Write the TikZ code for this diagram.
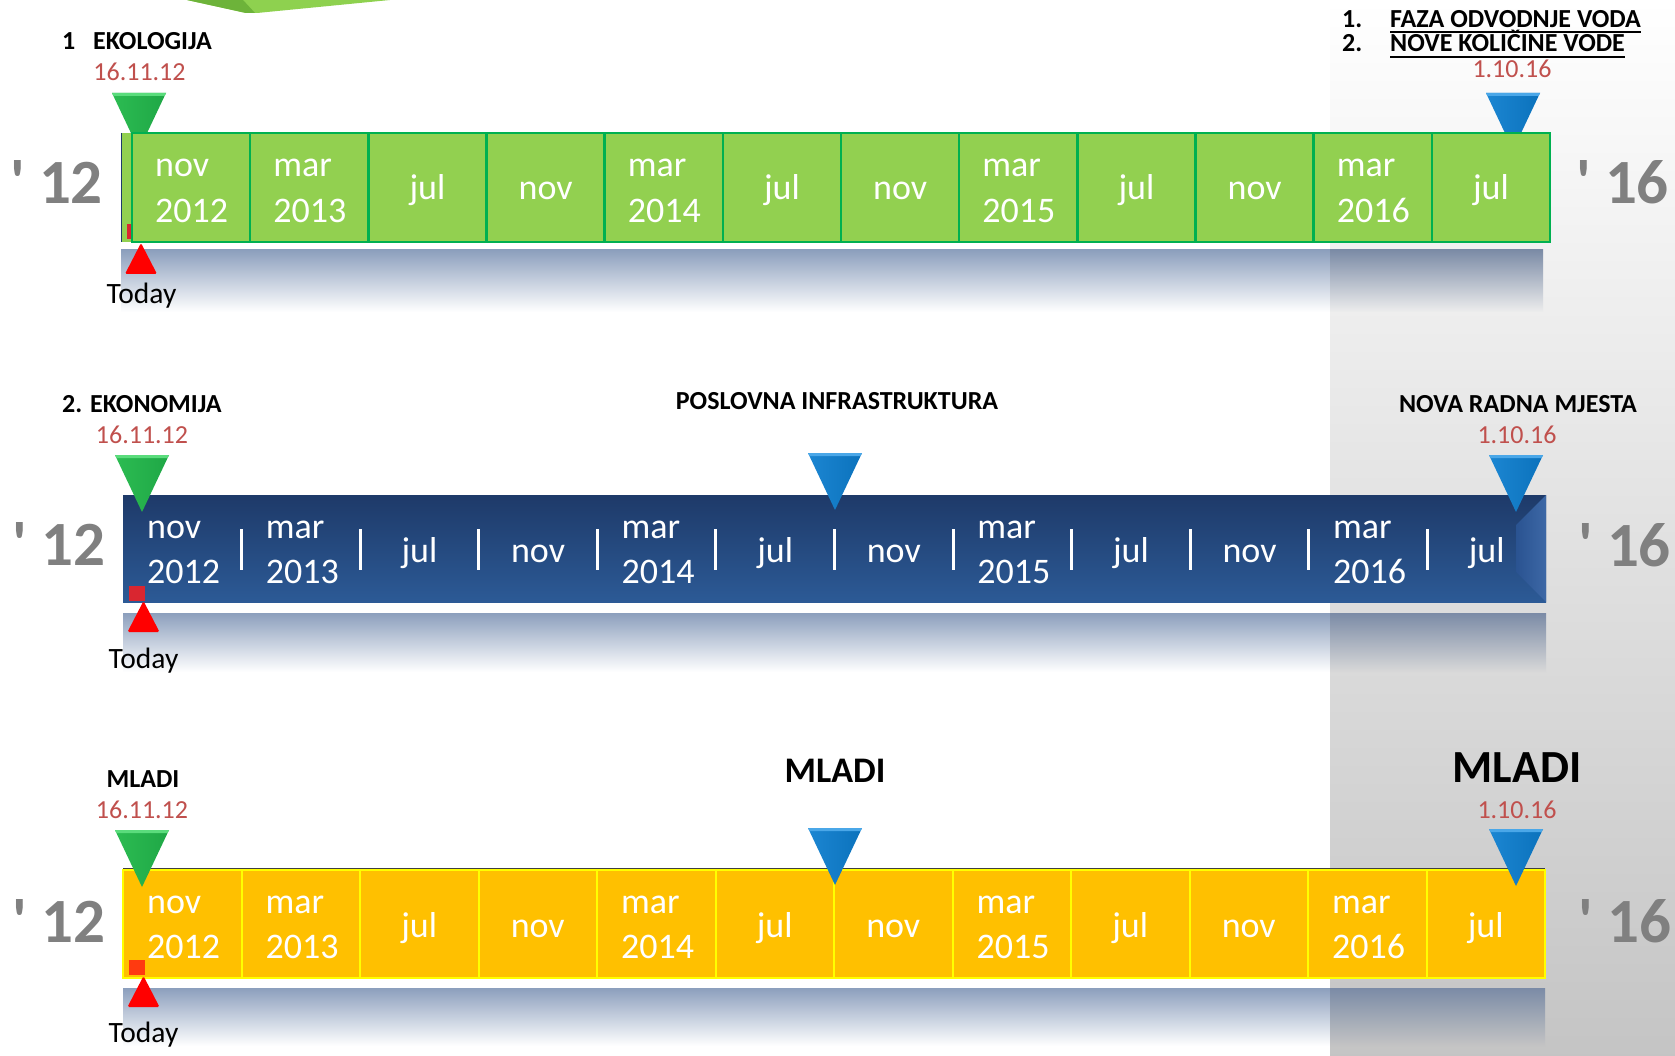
\documentclass[tikz,border=0pt]{standalone}
\usepackage{fontspec}
\setmainfont{Carlito}
\newfontfamily\yearfont{Carlito}[Ligatures=TeXOff]
\usetikzlibrary{calc}

\definecolor{barGreen}{HTML}{92D050}
\definecolor{lineGreen}{HTML}{00B050}
\definecolor{barYellow}{HTML}{FFC000}
\definecolor{lineYellow}{HTML}{FFFF00}
\definecolor{blueTop}{HTML}{1E3A69}
\definecolor{blueBot}{HTML}{2C5A96}
\definecolor{bevelL}{HTML}{2A5391}
\definecolor{bevelR}{HTML}{3D68A6}
\definecolor{dateRed}{HTML}{C0504D}
\definecolor{yearGray}{HTML}{808080}
\definecolor{triGL}{HTML}{2CBC52}
\definecolor{triGD}{HTML}{1FA746}
\definecolor{triGT}{HTML}{5ADC7C}
\definecolor{triBL}{HTML}{1C86D2}
\definecolor{triBD}{HTML}{0B72BC}
\definecolor{triBT}{HTML}{4AA7E8}
\definecolor{reflTop}{HTML}{8C9FBD}
\definecolor{reflTopG}{HTML}{7B8BA6}
\definecolor{topShapeL}{HTML}{8ED14F}
\definecolor{topShapeD}{HTML}{6DB33A}
\definecolor{todayRed}{HTML}{FF0000}
\definecolor{sqRed}{HTML}{D92630}
\definecolor{sqOrange}{HTML}{FF3A10}

\def\dashmark{-}

\tikzset{
  cellG/.style={draw=lineGreen, fill=barGreen, line width=2.5pt,
    minimum width=118.17pt, minimum height=109pt, inner sep=0pt, outer sep=0pt},
  cellY/.style={draw=lineYellow, fill=barYellow, line width=2pt,
    minimum width=118.5pt, minimum height=108pt, inner sep=0pt, outer sep=0pt},
  mtext/.style={text=white, font=\fontsize{36}{36}\selectfont, inner sep=0pt},
  head/.style={font=\bfseries\fontsize{26}{26}\selectfont, inner sep=0pt, text=black},
  datet/.style={font=\fontsize{26}{26}\selectfont, text=dateRed, inner sep=0pt},
  yeart/.style={font=\yearfont\bfseries\fontsize{63}{63}\selectfont, text=yearGray, inner sep=0pt},
  todayt/.style={font=\fontsize{29.5}{29.5}\selectfont, inner sep=0pt, text=black},
  sepline/.style={white, line width=3pt},
}

% down-pointing 3D triangle: #1 name, #2 x centre, #3 top y, #4 light, #5 dark, #6 highlight
\newcommand\mydowntri[6]{%
  \coordinate (#1) at (#2,#3);
  \shade[left color=#4, right color=#5] (#1) ++(-27,0) -- ++(54,0) -- ($(#1)+(0,57)$) -- cycle;
  \fill[#6] (#1) ++(-27,0) -- ++(54,0) -- ++(-1.5,3) -- ++(-51,0) -- cycle;
}
% red "today" marker: #1 name, #2 apex x, #3 apex y
\newcommand\mytodaytri[3]{%
  \coordinate (#1) at (#2,#3);
  \fill[todayRed, rounded corners=1.5pt] (#1) -- ++(16,31) -- ++(-32,0) -- cycle;
}

\begin{document}
\begin{tikzpicture}[x=1pt,y=-1pt]
\useasboundingbox (0,0) rectangle (1675,1056);
\fill[white] (0,0) rectangle (1675,1056);

% grey panel on the right
\shade[top color=white, bottom color=black!23] (1330,0) rectangle (1675,1056);

% partly visible green shape at the top
\fill[topShapeL] (187,0) -- (390,0) -- (257,13) -- (246,13) -- cycle;
\fill[topShapeD] (187,0) -- (243,0) -- (255,13) -- (246,13) -- cycle;

% ---------------- reflections ----------------
\shade[top color=reflTop, bottom color=white] (121,250) rectangle (1330,312);
\shade[top color=reflTopG, bottom color=black!7] (1330,250) rectangle (1543,312);
\shade[top color=reflTop, bottom color=white] (123,613) rectangle (1330,672);
\shade[top color=reflTopG, bottom color=black!15] (1330,613) rectangle (1546,672);
\shade[top color=reflTop, bottom color=white] (123,988) rectangle (1330,1046);
\shade[top color=reflTopG, bottom color=black!23] (1330,988) rectangle (1545,1046);

% ================= ROW 1 : EKOLOGIJA =================
\mydowntri{tri1g}{139}{93}{triGL}{triGD}{triGT}
\mydowntri{tri1b}{1513}{93}{triBL}{triBD}{triBT}

\fill[barGreen] (121,133) rectangle (132,242);
\draw[blueTop, line width=1pt] (121,133) -- (121,242);
\fill[sqRed] (127,224) rectangle (143,239);

\foreach \m/\yr [count=\i from 0] in {nov/2012,mar/2013,jul/-,nov/-,mar/2014,jul/-,nov/-,mar/2015,jul/-,nov/-,mar/2016,jul/-}{
  \pgfmathsetmacro\xl{132+118.17*\i}
  \node[cellG] (ga\i) at (\xl+59.085,187.5) {};
  \ifx\yr\dashmark
    \node[mtext, anchor=base] (gam\i) at (\xl+59.085,200) {\m};
  \else
    \node[mtext, anchor=base west] (gam\i) at (\xl+23,177) {\m};
    \node[mtext, anchor=base west] (gay\i) at (\xl+23,223) {\yr};
  \fi
}

\mytodaytri{tod1}{141}{243}
\node[todayt, anchor=base] (today1) at (141.5,304) {Today};

\node[yeart, anchor=base] (y12a) at (56.5,204) {' 12};
\node[yeart, anchor=base] (y16a) at (1622.5,204) {' 16};

\node[head, anchor=base west] (h1num) at (62,50) {1};
\node[head, anchor=base west] (h1txt) at (93,50) {EKOLOGIJA};
\node[datet, anchor=base] (d1a) at (139.5,81) {16.11.12};

\node[head, anchor=base west] (fzn) at (1342,28) {1.};
\node[head, anchor=base west] (fz) at (1390,28) {FAZA ODVODNJE VODA};
\draw[line width=2pt] ($(fz.base west)+(0,4)$) -- ($(fz.base east)+(0,4)$);
\node[head, anchor=base west] (nkn) at (1342,52) {2.};
\node[head, anchor=base west] (nk) at (1390,52) {NOVE KOLIČINE VODE};
\draw[line width=2pt] ($(nk.base west)+(0,5.5)$) -- ($(nk.base east)+(0,5.5)$);
\node[datet, anchor=base] (d1b) at (1512,78) {1.10.16};

% ================= ROW 2 : EKONOMIJA =================
\node[top color=blueTop, bottom color=blueBot, minimum width=1423pt, minimum height=107pt,
      inner sep=0pt, outer sep=0pt] (bbar) at (834.5,548.5) {};
\shade[left color=bevelL, right color=bevelR]
  (bbar.north east) -- ++(-30,30) -- ++(0,47) -- (bbar.south east) -- cycle;

\foreach \k in {1,...,11}{
  \draw[sepline] (123+118.58*\k,529) -- ++(0,41);
}
\foreach \m/\yr [count=\i from 0] in {nov/2012,mar/2013,jul/-,nov/-,mar/2014,jul/-,nov/-,mar/2015,jul/-,nov/-,mar/2016,jul/-}{
  \pgfmathsetmacro\xl{123+118.58*\i}
  \ifx\yr\dashmark
    \node[mtext, anchor=base] (bm\i) at (\xl+59.29,562) {\m};
  \else
    \node[mtext, anchor=base west] (bm\i) at (\xl+24,538) {\m};
    \node[mtext, anchor=base west] (by\i) at (\xl+24,583) {\yr};
  \fi
}

\mydowntri{tri2g}{142}{455}{triGL}{triGD}{triGT}
\mydowntri{tri2m}{835}{453}{triBL}{triBD}{triBT}
\mydowntri{tri2b}{1516}{455}{triBL}{triBD}{triBT}

\fill[sqRed] (129,586) rectangle (145,601);
\mytodaytri{tod2}{143.5}{601}
\node[todayt, anchor=base] (today2) at (143.5,668) {Today};

\node[yeart, anchor=base] (y12b) at (59,565) {' 12};
\node[yeart, anchor=base] (y16b) at (1624.5,566) {' 16};

\node[head, anchor=base west] (h2txt) at (62,412) {2. EKONOMIJA};
\node[datet, anchor=base] (d2a) at (142,443) {16.11.12};
\node[head, anchor=base] (h2mid) at (837,409) {POSLOVNA INFRASTRUKTURA};
\node[head, anchor=base] (h2r) at (1518,412) {NOVA RADNA MJESTA};
\node[datet, anchor=base] (d2b) at (1517,443) {1.10.16};

% ================= ROW 3 : MLADI =================
\draw[black!75, line width=1pt] (123,868.5) -- (1545,868.5);
\foreach \m/\yr [count=\i from 0] in {nov/2012,mar/2013,jul/-,nov/-,mar/2014,jul/-,nov/-,mar/2015,jul/-,nov/-,mar/2016,jul/-}{
  \pgfmathsetmacro\xl{123+118.5*\i}
  \node[cellY] (ya\i) at (\xl+59.25,924) {};
  \ifx\yr\dashmark
    \node[mtext, anchor=base] (yam\i) at (\xl+59.25,937) {\m};
  \else
    \node[mtext, anchor=base west] (yam\i) at (\xl+24,913) {\m};
    \node[mtext, anchor=base west] (yay\i) at (\xl+24,958) {\yr};
  \fi
}

\mydowntri{tri3g}{142}{830}{triGL}{triGD}{triGT}
\mydowntri{tri3m}{835}{828}{triBL}{triBD}{triBT}
\mydowntri{tri3b}{1516}{829}{triBL}{triBD}{triBT}

\fill[sqOrange] (129,960) rectangle (145,975);
\mytodaytri{tod3}{143.5}{976}
\node[todayt, anchor=base] (today3) at (143.5,1042) {Today};

\node[yeart, anchor=base] (y12c) at (59,942) {' 12};
\node[yeart, anchor=base] (y16c) at (1625,942) {' 16};

\node[head, anchor=base] (h3l) at (143,787) {MLADI};
\node[datet, anchor=base] (d3a) at (142,818) {16.11.12};
\node[head, font=\bfseries\fontsize{36}{36}\selectfont, anchor=base] (h3m) at (835,782) {MLADI};
\node[head, font=\bfseries\fontsize{46}{46}\selectfont, anchor=base] (h3r) at (1517,782) {MLADI};
\node[datet, anchor=base] (d3b) at (1517,818) {1.10.16};

\end{tikzpicture}
\end{document}
